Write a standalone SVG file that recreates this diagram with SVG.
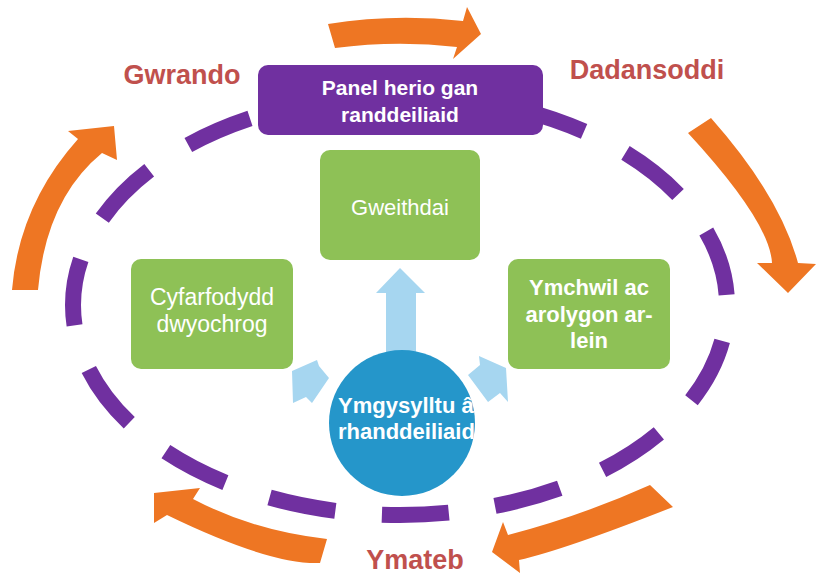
<svg xmlns="http://www.w3.org/2000/svg" width="817" height="576" viewBox="0 0 817 576">
<defs>
<style>
.orange{fill:#EE7623}
.lbl{font-family:"Liberation Sans",Arial,sans-serif;font-weight:bold;font-size:27px;fill:#C0504D;text-anchor:middle}
.green{fill:#8EC156}
.wt{font-family:"Liberation Sans",Arial,sans-serif;fill:#FFFFFF;text-anchor:middle}
.b{font-weight:bold}
.lb{fill:#A6D6F0}
</style>
<clipPath id="cclip"><rect x="300" y="380" width="174" height="80"/></clipPath>
</defs>
<rect width="817" height="576" fill="#FFFFFF"/>
<g id="connectors">
<ellipse cx="400" cy="305" rx="327" ry="210" fill="none" stroke="#7030A0" stroke-width="16" pathLength="1500" stroke-dasharray="59 41" stroke-dashoffset="68"/>
<path class="orange" d="M328,24 Q395,13 463,21 L467,7 L481,34 L453,59 L457,47 Q396,40 335,48 Z"/>
<path class="orange" d="M12,290 Q19,205 78,139 L68,131 L114,126 L117,160 L102,153 Q46,199 38,290 Z"/>
<path class="orange" d="M711,118 Q780,196 798,263 L816,264 L788,293 L757,263 L772,263 Q770,222 688,133 Z"/>
<path class="orange" d="M327,539 Q254,531 193,499 L200,488 L154,493 L154,523 L167,515 Q270,565 320,563 Z"/>
<path class="orange" d="M650,485 Q581,516 508,535 L503,522 L492,552 L520,573 L519,560 Q564,550 673,507 Z"/>
<polygon class="lb" points="400,268 425,293 416,293 416,352 386,352 386,293 376,293"/>
<polygon class="lb" points="292,371 317,360 319,366 329,378 312,403 306,397 293,403"/>
<polygon class="lb" points="506,368 479,356 480,365 468,375 488,402 500,393 508,402"/>
</g>
<g id="gwrando"><text class="lbl" x="182" y="84">Gwrando</text></g>
<g id="dadansoddi"><text class="lbl" x="647" y="79">Dadansoddi</text></g>
<g id="ymateb"><text class="lbl" x="415" y="569">Ymateb</text></g>
<g id="panel">
<rect x="258" y="65" width="285" height="70" rx="10" fill="#7030A0"/>
<text class="wt b" x="400" y="95" font-size="21">Panel herio gan</text>
<text class="wt b" x="400" y="122" font-size="21">randdeiliaid</text>
</g>
<g id="gweithdai">
<rect class="green" x="320" y="150" width="160" height="110" rx="10"/>
<text class="wt" x="400" y="215" font-size="22">Gweithdai</text>
</g>
<g id="cyfarfodydd">
<rect class="green" x="131" y="259" width="162" height="110" rx="10"/>
<text class="wt" x="212" y="305" font-size="23">Cyfarfodydd</text>
<text class="wt" x="212" y="332" font-size="23">dwyochrog</text>
</g>
<g id="ymchwil">
<rect class="green" x="508" y="259" width="162" height="110" rx="10"/>
<text class="wt b" x="589" y="295" font-size="22">Ymchwil ac</text>
<text class="wt b" x="589" y="322" font-size="22">arolygon ar-</text>
<text class="wt b" x="589" y="348" font-size="22">lein</text>
</g>
<g id="ymgysylltu">
<circle cx="402" cy="423" r="73" fill="#2596CA"/>
<g clip-path="url(#cclip)">
<text class="wt b" x="338" y="413" font-size="22" style="text-anchor:start">Ymgysylltu â</text>
<text class="wt b" x="338" y="439" font-size="22" style="text-anchor:start">rhanddeiliaid</text>
</g>
</g>
</svg>
